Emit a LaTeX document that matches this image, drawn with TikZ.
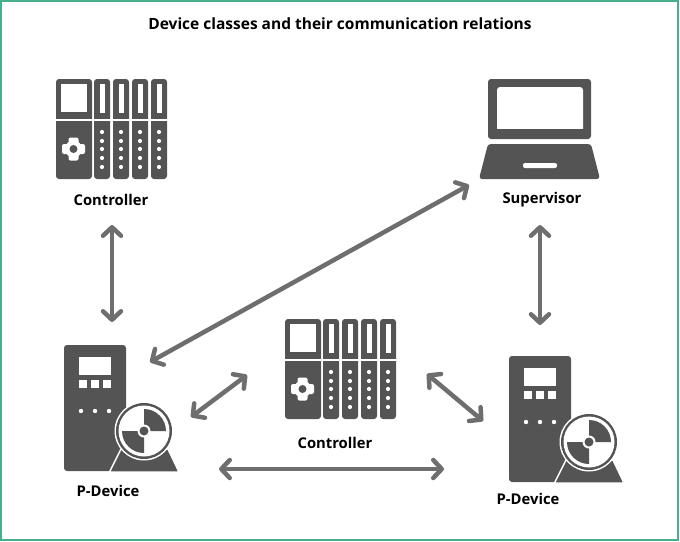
\documentclass[tikz,border=0pt]{standalone}
\usepackage{fontspec}
\setmainfont{Open Sans}
\usetikzlibrary{arrows.meta}
\definecolor{iconGray}{HTML}{545454}
\definecolor{linkGray}{HTML}{6E6E6E}
\definecolor{frameGreen}{HTML}{48AE8E}
\tikzset{
    x=1pt, y=-1pt,
    dark/.style={fill=iconGray, draw=none},
    light/.style={fill=white, draw=none},
    label/.style={font=\bfseries\fontsize{14.8}{16}\selectfont, text=black, inner sep=0pt},
    link/.style={draw=linkGray, line width=4.5pt, line cap=round,
        {Straight Barb[round,length=8.5pt,width=18pt]}-{Straight Barb[round,length=8.5pt,width=18pt]}},
    controller/.pic={
        % head unit
        \fill[dark, rounded corners=3pt] (0,0) rectangle (36,100);
        \fill[light] (5,5) rectangle (31,33);
        \fill[light] (0,40) rectangle (36,41.5);
        \fill[light] (17.5,70) circle (8.5);
        \foreach \a in {0,90,180,270}{
            \fill[light, rounded corners=2pt, rotate around={\a:(17.5,70)}] (12.5,58.5) rectangle (22.5,70);
        }
        \fill[dark] (17.5,70) circle (4);
        % io modules
        \foreach \x in {38,57,76,95}{
            \fill[dark, rounded corners=3pt] (\x,0) rectangle ++(16,100);
            \fill[light] (\x+5.5,5) rectangle ++(5,29);
            \fill[light] (\x,40) rectangle ++(16,1.5);
            \foreach \y in {53,62,70,79,88}{
                \fill[light] (\x+8,\y) circle (2.1);
            }
        }
    },
    pdevice/.pic={
        % cabinet
        \fill[dark, rounded corners=3pt] (0,0) rectangle (62,126);
        \fill[light] (15,12) rectangle (47,30);
        \foreach \x in {15,27,39}{
            \fill[light] (\x,35) rectangle ++(8,8);
        }
        \foreach \x in {17,31,45}{
            \fill[light] (\x,66) circle (2.2);
        }
        % pump
        \filldraw[fill=iconGray, draw=white, line width=1.5pt, line join=round]
            (45.5,127) -- (57,104) -- (104,104) -- (115,127) -- cycle;
        \fill[light] (80,86) circle (29.5);
        \fill[dark] (80,86) circle (28);
        \fill[light] (80,86) circle (25.5);
        \fill[dark] (80,86) -- (80,64) arc (-90:0:22) -- cycle;
        \fill[dark] (80,86) -- (80,108) arc (90:180:22) -- cycle;
        \fill[light] (80,86) circle (6.5);
        \fill[dark] (80,86) circle (4.5);
    },
    laptop/.pic={
        \fill[dark, rounded corners=3pt] (9,0) -- (112,0) -- (112,60) -- (9,60) -- cycle;
        \fill[light, rounded corners=3pt] (18,8) -- (104,8) -- (104,53) -- (18,53) -- cycle;
        \fill[dark] (18,50) rectangle (104,53.5);
        \fill[dark, rounded corners=3pt] (9,65) -- (112,65) -- (121,100) -- (0,100) -- cycle;
        \fill[light, rounded corners=2pt] (44,84) rectangle (78,89);
    },
}

\begin{document}
\begin{tikzpicture}
    % Globals
    \pgfmathsetmacro{\pageW}{680}
    \pgfmathsetmacro{\pageH}{541}
    \useasboundingbox (0,0) rectangle (\pageW,\pageH);
    \draw[frameGreen, line width=1.2pt] (1,1) rectangle (678,540);

    \node[font=\bfseries\fontsize{15.5}{17}\selectfont, inner sep=0pt] (TITLE) at (340,24)
        {Device classes and their communication relations};

    % Devices
    \pic at (56,79) {controller};
    \pic at (285,319) {controller};
    \pic at (479,79) {laptop};
    \pic at (64,345) {pdevice};
    \pic at (509,356) {pdevice};

    \node[label] (CTRL_TOP) at (111,200) {Controller};
    \node[label] (CTRL_MID) at (335,443) {Controller};
    \node[label] (SUPERVISOR) at (542,200) {Supervisor};
    \node[label] (PDEV_LEFT) at (108,491) {P-Device};
    \node[label] (PDEV_RIGHT) at (528,499) {P-Device};

    % Link ends
    \coordinate (CTRL_TOP_S) at (112,225);
    \coordinate (PDEV_LEFT_N) at (112,322);
    \coordinate (PDEV_LEFT_NE) at (150,362);
    \coordinate (SUPERVISOR_W) at (469,185);
    \coordinate (SUPERVISOR_S) at (540,225);
    \coordinate (PDEV_RIGHT_N) at (540,325);
    \coordinate (PDEV_LEFT_E) at (191,417);
    \coordinate (CTRL_MID_W) at (247,375);
    \coordinate (CTRL_MID_E) at (427,374);
    \coordinate (PDEV_RIGHT_W) at (483,421);
    \coordinate (BOTTOM_W) at (219,469);
    \coordinate (BOTTOM_E) at (444,469);

    % Links
    \draw[link] (CTRL_TOP_S) -- (PDEV_LEFT_N);
    \draw[link] (PDEV_LEFT_NE) -- (SUPERVISOR_W);
    \draw[link] (SUPERVISOR_S) -- (PDEV_RIGHT_N);
    \draw[link] (PDEV_LEFT_E) -- (CTRL_MID_W);
    \draw[link] (CTRL_MID_E) -- (PDEV_RIGHT_W);
    \draw[link] (BOTTOM_W) -- (BOTTOM_E);
\end{tikzpicture}
\end{document}
